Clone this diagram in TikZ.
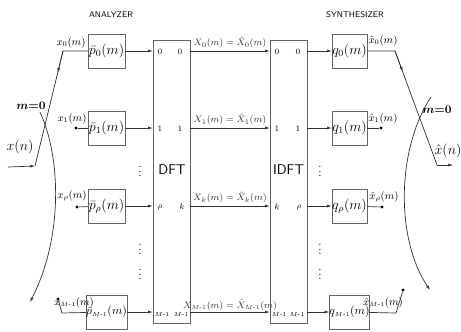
\documentclass[tikz,border=0pt]{standalone}
\usepackage{xcolor}
\definecolor{linegray}{RGB}{50,50,50}
\definecolor{boxgray}{RGB}{100,100,100}
\usepackage{tikz}
\usetikzlibrary{arrows.meta,positioning,calc}
\usepackage{amsmath,amssymb}

\begin{document}
\begin{tikzpicture}[x=0.03cm, y=-0.03cm,
    filt/.style={rectangle, draw=boxgray, minimum width=1.11cm,
                 minimum height=1.02cm, inner sep=0pt, font=\large},
    xform/.style={rectangle, draw=boxgray, minimum width=1.11cm,
                  minimum height=8.49cm, inner sep=0pt},
    arr/.style={-{Latex[length=4pt,width=2.6pt]}, linegray, semithick},
    wire/.style={linegray, semithick},
    port/.style={font=\scriptsize, inner sep=0pt},
    sig/.style={font=\small, inner sep=0pt},
    band/.style={font=\footnotesize, inner sep=1pt},
    pin/.style={circle, fill=black, inner sep=0pt, minimum size=2.6pt},
    title/.style={font=\scriptsize\sffamily},
  ]
    \useasboundingbox (0,0) rectangle (461,331);

    % headings
    \node[title] (ana) at (111,15) {ANALYZER};
    \node[title] (syn) at (355,15) {SYNTHESIZER};

    % analysis filters
    \node[filt] (p0) at (106.5,51) {$\bar{p}_0(m)$};
    \node[filt] (p1) at (106.5,128) {$\bar{p}_1(m)$};
    \node[filt] (pr) at (106.5,206) {$\bar{p}_\rho(m)$};
    \node[filt, font=\normalsize] (pM) at (106.5,312) {$\bar{p}_{\scriptscriptstyle M\text{-}1}(m)$};

    % transforms
    \node[xform] (dft) at (171.5,181.5) {};
    \node[font=\large\sffamily] (dftl) at (172,170) {DFT};
    \node[xform] (idft) at (288.5,181.5) {};
    \node[font=\large\sffamily] (idftl) at (288.5,170) {IDFT};

    % synthesis filters
    \node[filt, minimum width=1.05cm] (q0) at (349.5,51) {$q_0(m)$};
    \node[filt, minimum width=1.05cm] (q1) at (349.5,128) {$q_1(m)$};
    \node[filt, minimum width=1.05cm] (qr) at (349.5,206) {$q_\rho(m)$};
    \node[filt, minimum width=1.05cm, font=\normalsize] (qM) at (349.5,312) {$q_{\scriptscriptstyle M\text{-}1}(m)$};

    % port numbers
    \node[port] (di0) at (160,52) {0};
    \node[port] (do0) at (180,52) {0};
    \node[port] (di1) at (160,129) {1};
    \node[port] (do1) at (180,129) {1};
    \node[port] (dir) at (160,208) {$\rho$};
    \node[port] (dor) at (182,207) {$k$};
    \node[port, font=\tiny] (diM) at (162,314) {$M$-1};
    \node[port, font=\tiny] (doM) at (181,314) {$M$-1};
    \node[port] (ii0) at (277,52) {0};
    \node[port] (io0) at (298,52) {0};
    \node[port] (ii1) at (277,129) {1};
    \node[port] (io1) at (298,129) {1};
    \node[port] (iir) at (277,207) {$k$};
    \node[port] (ior) at (299,208) {$\rho$};
    \node[port, font=\tiny] (iiM) at (279,314) {$M$-1};
    \node[port, font=\tiny] (ioM) at (297,314) {$M$-1};

    % filters -> DFT
    \draw[arr] (p0) -- (p0 -| dft.west);
    \draw[arr] (p1) -- (p1 -| dft.west);
    \draw[arr] (pr) -- (pr -| dft.west);
    \draw[arr] (pM) -- (pM -| dft.west);

    % DFT -> IDFT
    \draw[arr] (p0 -| dft.east) -- node[band, above=1pt] {$X_0(m)=\hat{X}_0(m)$} (p0 -| idft.west);
    \draw[arr] (p1 -| dft.east) -- node[band, above=1pt] {$X_1(m)=\hat{X}_1(m)$} (p1 -| idft.west);
    \draw[arr] (pr -| dft.east) -- node[band, above=1pt] {$X_k(m)=\hat{X}_k(m)$} (pr -| idft.west);
    \draw[arr] (pM -| dft.east) -- node[band, above=0pt]
      {$X_{\scriptscriptstyle M\text{-}1}(m)=\hat{X}_{\scriptscriptstyle M\text{-}1}(m)$} (pM -| idft.west);

    % IDFT -> filters
    \draw[arr] (q0 -| idft.east) -- (q0);
    \draw[arr] (q1 -| idft.east) -- (q1);
    \draw[arr] (qr -| idft.east) -- (qr);
    \draw[arr] (qM -| idft.east) -- (qM);

    % vertical dots
    \node (va1) at (140,168) {$\vdots$};
    \node (va2) at (140,246) {$\vdots$};
    \node (va3) at (140,271) {$\vdots$};
    \node (vs1) at (320,168) {$\vdots$};
    \node (vs2) at (320,246) {$\vdots$};
    \node (vs3) at (320,271) {$\vdots$};

    % input commutator
    \coordinate (xsrc) at (8,167);
    \coordinate (xin) at (35,166);
    \coordinate (c0) at (63,51);
    \node[font=\large] (xn) at (20,147) {$x(n)$};
    \draw[arr] (xsrc) -- (xin);
    \draw[wire] (xin) -- (c0) -- (p0);
    \draw[arr] (c0) -- ($(c0)!0.19!(xin)$);
    \node[sig] (x0l) at (71,43) {$x_0(m)$};
    \node[pin] (c1) at (76,128) {};
    \draw[wire] (c1) -- (p1);
    \node[sig] (x1l) at (72,119) {$x_1(m)$};
    \node[pin] (cr) at (77,207) {};
    \draw[wire] (cr) -- (pr);
    \node[sig] (xrl) at (72,196) {$x_\rho(m)$};
    \node[pin] (cM) at (58,299) {};
    \coordinate (kM) at (62,313);
    \draw[wire] (cM) -- (kM) -- (pM);
    \node[sig] (xMl) at (74,303) {$x_{\scriptscriptstyle M\text{-}1}(m)$};
    \coordinate (a0) at (40,112);
    \coordinate (a1) at (30,302);
    \draw[arr] (a0) .. controls (62,160) and (62,240) .. (a1);
    \node[font=\normalsize\boldmath] (m0l) at (31,106) {$m{=}0$};

    % output commutator
    \coordinate (e0) at (395,51);
    \coordinate (xout) at (437,165);
    \coordinate (xdst) at (453,165);
    \draw[wire] (q0) -- (e0) -- (xout);
    \draw[arr] (xout) -- (xdst);
    \draw[arr] (e0) -- ($(e0)!0.18!(xout)$);
    \node[font=\large] (xhn) at (448,151) {$\hat{x}(n)$};
    \node[sig] (y0l) at (383,41) {$\hat{x}_0(m)$};
    \node[pin] (d1) at (381,128) {};
    \draw[wire] (q1) -- (d1);
    \node[sig] (y1l) at (383,119) {$\hat{x}_1(m)$};
    \node[pin] (dr) at (382,207) {};
    \draw[wire] (qr) -- (dr);
    \node[sig] (yrl) at (384,197) {$\hat{x}_\rho(m)$};
    \coordinate (kq) at (396,313);
    \node[pin] (dM) at (403,290) {};
    \draw[wire] (qM) -- (kq) -- (dM);
    \node[sig] (yMl) at (383,303) {$\hat{x}_{\scriptscriptstyle M\text{-}1}(m)$};
    \coordinate (b0) at (431,97);
    \coordinate (b1) at (430,290);
    \draw[arr] (b0) .. controls (396,150) and (396,240) .. (b1);
    \node[font=\normalsize\boldmath] (m0r) at (437,110) {$m{=}0$};
\end{tikzpicture}
\end{document}
